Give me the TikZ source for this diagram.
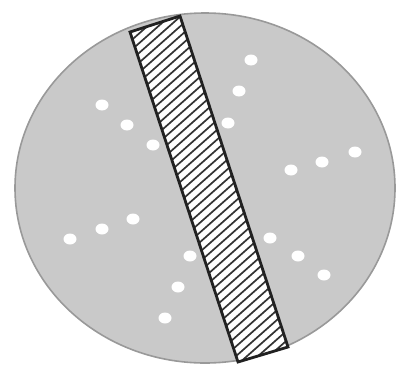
\documentclass[tikz,border=0pt]{standalone}
\usepackage{tikz}
\usetikzlibrary{shapes.geometric}

\begin{document}
\begin{tikzpicture}[x=1pt, y=-1pt,
    disc/.style={draw=black!40, line width=1.6pt, fill=black!21},
    dot/.style={ellipse, fill=white, inner sep=0pt, minimum width=13pt, minimum height=11pt},
    strip/.style={draw=black!87, line width=2.8pt, line join=miter},
    hatch/.style={draw=black!80, line width=1.7pt}
]
\useasboundingbox (0,0) rectangle (396,365);

% grey disc
\draw[disc] (205,188) ellipse [x radius=190, y radius=175];

% white dots
\foreach \px/\py [count=\k] in {251/60, 239/91, 228/123, 102/105, 127/125, 153/145,
    291/170, 322/162, 355/152, 70/239, 102/229, 133/219,
    190/256, 178/287, 165/318, 270/238, 298/256, 324/275}
  \node[dot] (d\k) at (\px,\py) {};

% hatched strip
\coordinate (sa) at (130,32);
\coordinate (sb) at (180,16);
\coordinate (sc) at (288,347);
\coordinate (sd) at (238,362);
\fill[white] (sa) -- (sb) -- (sc) -- (sd) -- cycle;
\begin{scope}
  \clip (sa) -- (sb) -- (sc) -- (sd) -- cycle;
  \foreach \i in {-440,-429,...,300}
    \draw[hatch] (\i,380) -- (\i+430,0);
\end{scope}
\draw[strip] (sa) -- (sb) -- (sc) -- (sd) -- cycle;

\end{tikzpicture}
\end{document}
